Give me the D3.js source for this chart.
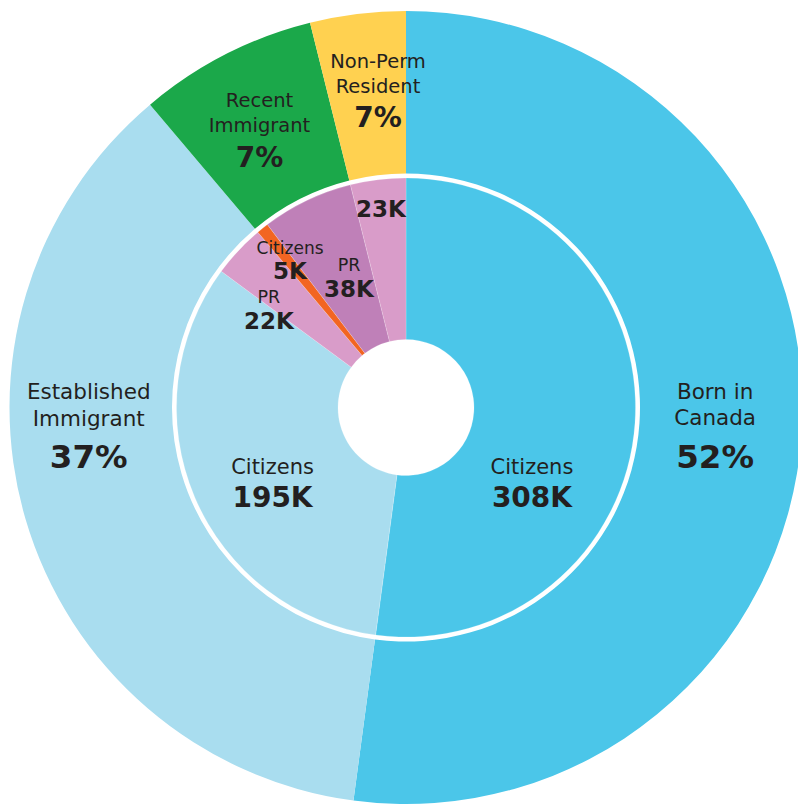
<!DOCTYPE html>
<html lang="en">
<head>
    <meta charset="UTF-8">
    <title>Population by Status</title>
    <script src="https://d3js.org/d3.v7.min.js"></script>
    <style>
        body { margin: 0; background: #fff; }
        text { font-family: "DejaVu Sans", sans-serif; fill: #231f20; }
    </style>
</head>

<body>
    <!-- Div id for the chart -->
    <div id="my_dataviz"></div>

    <script>
        // outer ring: status groups and their printed shares
        var groups = ["Born in Canada", "Established Immigrant", "Recent Immigrant", "Non-Perm Resident"];
        var groupPct = ["52%", "37%", "7%", "7%"];

        // inner ring: sub-groups (thousands of people)
        var innerGroup = [0, 1, 1, 2, 2, 3];
        var innerNames = ["Citizens", "Citizens", "PR", "Citizens", "PR", ""];
        var innerValues = [308, 195, 22, 5, 38, 23];

        // colours
        var outerColors = ["#4bc6e9", "#a9ddef", "#1ba84a", "#ffd150"];
        var innerColors = ["#4bc6e9", "#a9ddef", "#d99cc9", "#f26522", "#bf80b8", "#d99cc9"];

        // set the dimensions of the chart
        var width = 798, height = 806,
            cx = 406, cy = 407.5,
            rOuter = 396.5, rOuterIn = 234,
            rInnerOut = 229.5, rHole = 68;

        var svg = d3.select("#my_dataviz")
            .append("svg")
            .attr("width", width)
            .attr("height", height)
            .append("g")
            .attr("transform", "translate(" + cx + "," + cy + ")");

        // outer values are the sum of the inner pieces
        var outerValues = groups.map(function (g, i) {
            return d3.sum(innerValues.filter(function (v, j) { return innerGroup[j] === i; }));
        });

        var pie = d3.pie().sort(null).value(function (d) { return d; });

        var arcOuter = d3.arc().innerRadius(rOuterIn).outerRadius(rOuter);
        var arcInner = d3.arc().innerRadius(rHole).outerRadius(rInnerOut);

        svg.selectAll("path.outer")
            .data(pie(outerValues))
            .enter()
            .append("path")
            .attr("class", "outer")
            .attr("d", arcOuter)
            .attr("fill", function (d, i) { return outerColors[i]; });

        svg.selectAll("path.inner")
            .data(pie(innerValues))
            .enter()
            .append("path")
            .attr("class", "inner")
            .attr("d", arcInner)
            .attr("fill", function (d, i) { return innerColors[i]; })
            .attr("stroke", "#fff")
            .attr("stroke-opacity", 0.3)
            .attr("stroke-width", 0.6);

        // label placement: [angle in degrees clockwise from top, radius] of the value baseline
        var outerLabelPos = [[101.1, 315], [259.2, 323], [328.7, 282], [354.3, 282]];
        var outerLabelStyle = [
            { name: 21.5, value: 32.5, gap: 43, lead: 26 },
            { name: 21.5, value: 32.5, gap: 42, lead: 27 },
            { name: 19.5, value: 28, gap: 35, lead: 25 },
            { name: 19.5, value: 28, gap: 34, lead: 25 }
        ];
        var outerNameLines = [["Born in", "Canada"], ["Established", "Immigrant"], ["Recent", "Immigrant"], ["Non-Perm", "Resident"]];

        var innerLabelPos = [[128.3, 160.5], [233.3, 166.5], [299.8, 158], [317.9, 173], [332.7, 124.3], [352.5, 192]];
        var innerLabelStyle = [
            { name: 21, value: 28, gap: 33 },
            { name: 21, value: 28, gap: 33 },
            { name: 17.5, value: 23, gap: 26 },
            { name: 17, value: 23, gap: 25 },
            { name: 17.5, value: 23, gap: 26 },
            { name: 17, value: 23, gap: 25 }
        ];

        function polar(p) {
            var a = p[0] * Math.PI / 180;
            return [p[1] * Math.sin(a), -p[1] * Math.cos(a)];
        }

        // outer labels
        groups.forEach(function (g, i) {
            var xy = polar(outerLabelPos[i]), s = outerLabelStyle[i];
            var lab = svg.append("g").attr("transform", "translate(" + xy[0] + "," + xy[1] + ")")
                .attr("text-anchor", "middle");
            var lines = outerNameLines[i];
            lab.append("text").attr("y", -s.gap - s.lead).style("font-size", s.name + "px").text(lines[0]);
            lab.append("text").attr("y", -s.gap).style("font-size", s.name + "px").text(lines[1]);
            lab.append("text").attr("y", 0).style("font-size", s.value + "px")
                .style("font-weight", "bold").text(groupPct[i]);
        });

        // inner labels
        innerValues.forEach(function (v, i) {
            var xy = polar(innerLabelPos[i]), s = innerLabelStyle[i];
            var lab = svg.append("g").attr("transform", "translate(" + xy[0] + "," + xy[1] + ")")
                .attr("text-anchor", "middle");
            if (innerNames[i]) {
                lab.append("text").attr("y", -s.gap).style("font-size", s.name + "px").text(innerNames[i]);
            }
            lab.append("text").attr("y", 0).style("font-size", s.value + "px")
                .style("font-weight", "bold").text(v + "K");
        });
    </script>
</body>

</html>
